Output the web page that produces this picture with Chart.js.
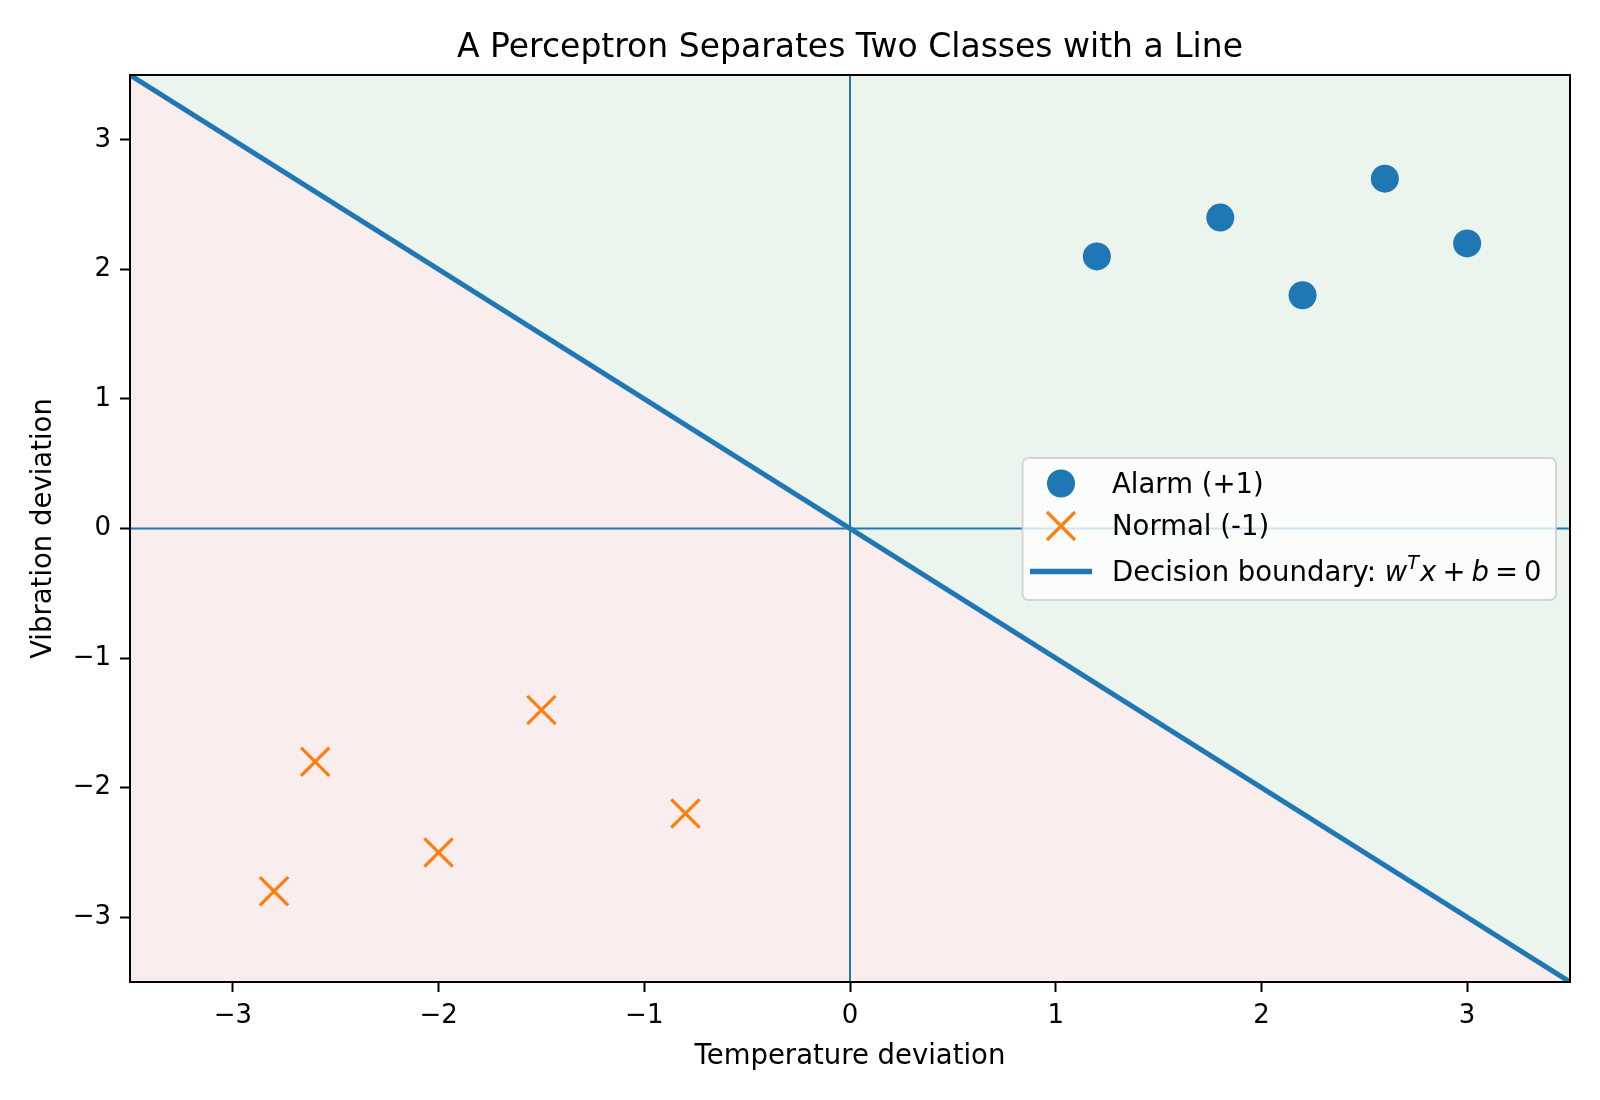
<!DOCTYPE html>
<html><head><meta charset="utf-8">
<script src="https://cdn.jsdelivr.net/npm/chart.js@4/dist/chart.umd.min.js"></script>
<style>html,body{margin:0;padding:0;background:#fff}#wrap{width:1600px;height:1100px}</style>
</head><body><div id="wrap"><canvas id="c" width="1600" height="1100"></canvas></div>
<script>
// ---- data ----
const alarmX = [1.2, 1.8, 2.2, 2.6, 3.0];
const alarmY = [2.1, 2.4, 1.8, 2.7, 2.2];
const normalX = [-2.8, -2.6, -2.0, -1.5, -0.8];
const normalY = [-2.8, -1.8, -2.5, -1.4, -2.2];
const boundaryX = [-3.5, 3.5];
const boundaryY = [3.5, -3.5];
const zeroLineX = [-3.5, 3.5];
const zeroLineY = [0, 0];
const axisRange = [-3.5, 3.5];
const xTickValues = [-3, -2, -1, 0, 1, 2, 3];
const yTickValues = [-3, -2, -1, 0, 1, 2, 3];
const seriesLabels = ['Alarm (+1)', 'Normal (-1)', 'Decision boundary: '];
const titleText = 'A Perceptron Separates Two Classes with a Line';
const xLabel = 'Temperature deviation';
const yLabel = 'Vibration deviation';

const pts = (xs, ys) => xs.map((x, i) => ({x: x, y: ys[i]}));
const fmt = v => (v < 0 ? '\u2212' + Math.abs(v) : String(v));
const BLUE = '#1f77b4', ORANGE = '#ff7f0e';
const FONT = 'DejaVu Sans';

const framePlugin = {
  id: 'frame',
  afterDatasetsDraw(chart) {
    const {ctx, chartArea: a} = chart;
    ctx.save();
    ctx.strokeStyle = '#000';
    ctx.lineWidth = 2;
    ctx.strokeRect(a.left, a.top, a.right - a.left, a.bottom - a.top);
    ctx.restore();
  }
};

const legendPlugin = {
  id: 'mplLegend',
  afterDraw(chart) {
    const ctx = chart.ctx;
    const bx = 1022.5, by = 458, bw = 533.5, bh = 142, r = 6;
    ctx.save();
    ctx.beginPath();
    ctx.roundRect(bx, by, bw, bh, r);
    ctx.fillStyle = 'rgba(255,255,255,0.8)';
    ctx.fill();
    ctx.lineWidth = 2;
    ctx.strokeStyle = 'rgba(204,204,204,0.8)';
    ctx.stroke();

    const mx = 1061;
    ctx.beginPath();
    ctx.arc(mx, 483.5, 14, 0, Math.PI * 2);
    ctx.fillStyle = BLUE;
    ctx.fill();
    ctx.beginPath();
    const h = 14;
    ctx.moveTo(mx - h, 526 - h); ctx.lineTo(mx + h, 526 + h);
    ctx.moveTo(mx + h, 526 - h); ctx.lineTo(mx - h, 526 + h);
    ctx.strokeStyle = ORANGE;
    ctx.lineWidth = 3.2;
    ctx.stroke();
    ctx.beginPath();
    ctx.moveTo(1030, 571.5); ctx.lineTo(1092, 571.5);
    ctx.strokeStyle = BLUE;
    ctx.lineWidth = 5.5;
    ctx.stroke();

    const fs = 27.5;
    ctx.fillStyle = '#000';
    ctx.textBaseline = 'alphabetic';
    ctx.textAlign = 'left';
    ctx.font = fs + 'px "' + FONT + '"';
    const tx = 1112;
    ctx.fillText(seriesLabels[0], tx, 492.5);
    ctx.fillText(seriesLabels[1], tx, 534.6);
    const yb = 580.5;
    ctx.fillText(seriesLabels[2], tx, yb);
    let x = tx + ctx.measureText(seriesLabels[2]).width;
    const it = 'italic ' + fs + 'px "' + FONT + '"';
    const rm = fs + 'px "' + FONT + '"';
    const sup = 'italic ' + (fs * 0.7) + 'px "' + FONT + '"';
    const seg = (t, f, dy, gapAfter) => {
      ctx.font = f;
      ctx.fillText(t, x, yb + dy);
      x += ctx.measureText(t).width + (gapAfter || 0);
    };
    const g = fs * 0.22;
    seg('w', it, 0, 0);
    seg('T', sup, -fs * 0.42, 1);
    seg('x', it, 0, g);
    seg('+', rm, 0, g);
    seg('b', it, 0, g);
    seg('=', rm, 0, g);
    seg('0', rm, 0, 0);
    ctx.restore();
  }
};

const tickFont = {family: FONT, size: 26};
const labelFont = {family: FONT, size: 27.5};

new Chart(document.getElementById('c'), {
  type: 'line',
  data: {
    datasets: [
      {label: seriesLabels[0], data: pts(alarmX, alarmY), showLine: false, pointStyle: 'circle',
       pointRadius: 14, pointBackgroundColor: BLUE, pointBorderWidth: 0, pointBorderColor: BLUE, order: 0},
      {label: seriesLabels[1], data: pts(normalX, normalY), showLine: false, pointStyle: 'crossRot',
       pointRadius: 20, pointBorderColor: ORANGE, pointBorderWidth: 3.2, order: 1},
      {label: seriesLabels[2], data: pts(boundaryX, boundaryY), borderColor: BLUE, borderWidth: 5,
       pointRadius: 0, fill: false, order: 2},
      {label: 'x=0', data: pts(zeroLineY, zeroLineX), borderColor: BLUE, borderWidth: 2, pointRadius: 0, fill: false, order: 3},
      {label: 'y=0', data: pts(zeroLineX, zeroLineY), borderColor: BLUE, borderWidth: 2, pointRadius: 0, fill: false, order: 4},
      {label: 'class +1 region', data: pts(boundaryX, boundaryY), borderColor: 'rgba(0,0,0,0)', borderWidth: 0,
       pointRadius: 0, fill: 'end', backgroundColor: '#ecf5ed', order: 5},
      {label: 'class -1 region', data: pts(boundaryX, boundaryY), borderColor: 'rgba(0,0,0,0)', borderWidth: 0,
       pointRadius: 0, fill: 'start', backgroundColor: '#f9eded', order: 6}
    ]
  },
  options: {
    responsive: false,
    animation: false,
    events: [],
    layout: {padding: {left: 0, right: 30, top: 0, bottom: 0}},
    plugins: {
      legend: {display: false},
      tooltip: {enabled: false},
      filler: {drawTime: 'beforeDatasetsDraw'},
      title: {display: true, fullSize: false, text: titleText, color: '#000',
        font: {family: FONT, size: 33, weight: 'normal'}, padding: {top: 29, bottom: 6.4}}
    },
    scales: {
      x: {
        type: 'linear', min: axisRange[0], max: axisRange[1],
        afterBuildTicks(s) { s.ticks = xTickValues.map(v => ({value: v})); },
        afterFit(s) { s.height = 118; },
        ticks: {font: tickFont, color: '#000', padding: 9, maxRotation: 0, autoSkip: false, callback: v => fmt(v)},
        grid: {drawOnChartArea: false, drawTicks: true, tickLength: 10, tickWidth: 2, tickColor: '#000'},
        border: {display: false},
        title: {display: true, text: xLabel, color: '#000', font: labelFont, padding: {top: 0, bottom: 26.5}}
      },
      y: {
        type: 'linear', min: axisRange[0], max: axisRange[1],
        afterBuildTicks(s) { s.ticks = yTickValues.map(v => ({value: v})); },
        afterFit(s) { s.width = 130; },
        ticks: {font: tickFont, color: '#000', padding: 9, autoSkip: false, callback: v => fmt(v)},
        grid: {drawOnChartArea: false, drawTicks: true, tickLength: 10, tickWidth: 2, tickColor: '#000'},
        border: {display: false},
        title: {display: true, text: yLabel, color: '#000', font: labelFont, padding: {top: 27.5, bottom: 0}}
      }
    }
  },
  plugins: [framePlugin, legendPlugin]
});
</script>
</body></html>
